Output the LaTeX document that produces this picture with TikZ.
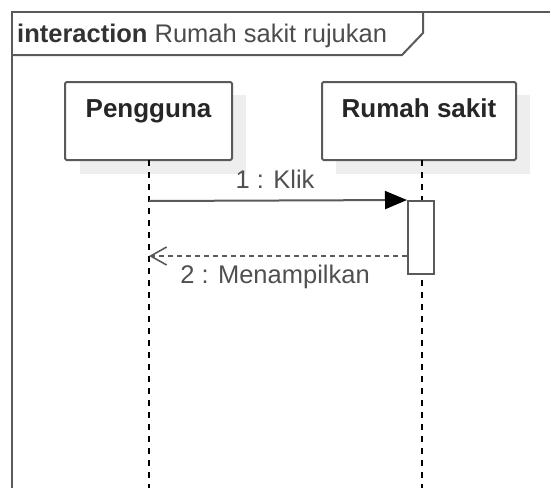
\documentclass[tikz,border=0pt]{standalone}
\usepackage{fontspec}
\setmainfont{Liberation Sans}
\usetikzlibrary{arrows.meta}
\definecolor{edgegray}{HTML}{5A5A5A}
\definecolor{shadowgray}{HTML}{EEEEEE}
\definecolor{labelgray}{HTML}{505050}
\begin{document}
\begin{tikzpicture}[x=1pt,y=-1pt,
  frameline/.style={draw=edgegray, line width=2pt},
  lifebox/.style={draw=edgegray, line width=2pt, fill=white, rounded corners=1.5pt,
    minimum height=78pt, inner sep=0pt},
  boxshadow/.style={fill=shadowgray},
  boxtitle/.style={font=\fontsize{26}{30}\selectfont\bfseries, text=black!85, inner sep=0pt, anchor=base},
  lifeline/.style={draw=black, line width=1.6pt, dash pattern=on 6pt off 6pt},
  actbox/.style={draw=edgegray, line width=2pt, fill=white, minimum width=26pt, minimum height=73pt, inner sep=0pt},
  msgcall/.style={draw=edgegray, line width=2pt, -{Triangle[length=22pt,width=18pt,fill=black,color=black]}},
  msgreply/.style={draw=edgegray, line width=2pt, dash pattern=on 5pt off 4pt,
    -{Straight Barb[length=16pt,width=18pt,line width=1.6pt,color=edgegray]}},
  msglabel/.style={font=\fontsize{25.5}{29}\selectfont, text=labelgray, inner sep=0pt, anchor=base}]
\useasboundingbox (0,0) rectangle (550,488);

% interaction frame with its name tab
\draw[frameline] (12,490) -- (12,12) -- (552,12);
\draw[frameline] (12,55) -- (402,55) -- (423,33) -- (423,12);
\node[font=\fontsize{25.5}{29}\selectfont, inner sep=0pt, anchor=base west, text=black!80] (ftitle) at (17,42)
  {\textbf{interaction} \textcolor{black!70}{Rumah sakit rujukan}};

% lifeline heads with drop shadows
\fill[boxshadow] (80,95) rectangle (246,174);
\fill[boxshadow] (336,95) rectangle (530,174);
\node[lifebox, minimum width=167pt] (pg) at (148.5,121) {};
\node[lifebox, minimum width=194pt] (rs) at (419,121) {};
\node[boxtitle] (pgt) at (148.5,117) {Pengguna};
\node[boxtitle] (rst) at (419,117) {Rumah sakit};

% lifelines
\coordinate (pgend) at (149,488);
\coordinate (rsend) at (422,488);
\draw[lifeline] (149,160) -- (pgend);
\draw[lifeline] (422,160) -- (rsend);

% activation on the hospital lifeline
\node[actbox] (act) at (421,237.5) {};

% messages
\coordinate (m1s) at (149,201);
\coordinate (m2e) at (149,256);
\draw[msgcall] (m1s) -- (act.north west);
\draw[msgreply] (act.west |- m2e) -- (m2e);
\node[msglabel] (m1l) at (275,188) {1 : Klik};
\node[msglabel] (m2l) at (275,283) {2 : Menampilkan};
\end{tikzpicture}
\end{document}
